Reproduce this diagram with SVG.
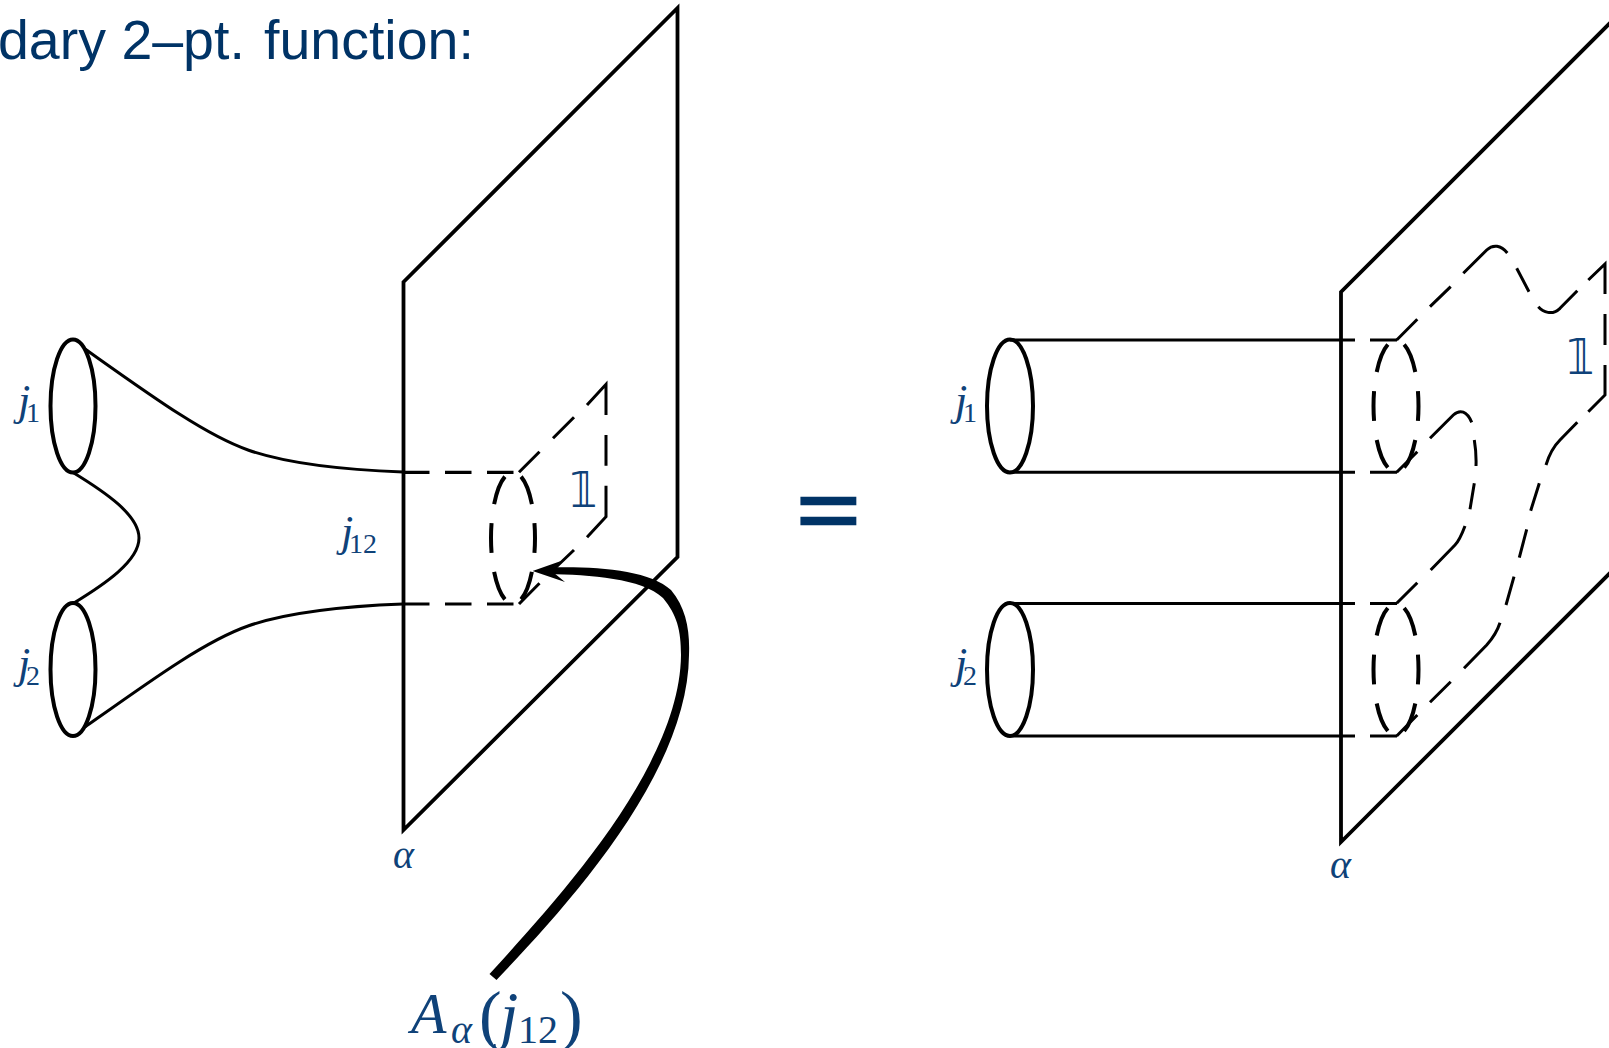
<svg xmlns="http://www.w3.org/2000/svg" width="1609" height="1048" viewBox="0 0 1609 1048">
<style>
.plane{fill:none;stroke:#000;stroke-width:3.8;stroke-linejoin:miter}
.thin{fill:none;stroke:#000;stroke-width:3}
.dash{fill:none;stroke:#000;stroke-width:3}
.hd{fill:none;stroke:#000;stroke-width:3.2;stroke-dasharray:26.5 15.5}
.rim{fill:none;stroke:#000;stroke-width:4}
.rimd{fill:none;stroke:#000;stroke-width:4;stroke-dasharray:12.2 7.8;stroke-dashoffset:6.1}
.m{font-family:"Liberation Serif","DejaVu Serif",serif;font-style:italic;fill:#0f4279}
.n{font-family:"Liberation Serif","DejaVu Serif",serif;fill:#0f4279}
.bb{font-family:"DejaVu Sans",sans-serif;fill:#0f4279}
</style>
<rect width="1609" height="1048" fill="#fff"/>
<text id="title" y="59" font-family="'Liberation Sans',Arial,sans-serif" font-size="55.5" fill="#003366"><tspan x="-2">dary 2–pt.</tspan> <tspan x="264">function:</tspan></text>
<g id="connectors">
<path class="thin" d="M85 349C150 395 205 435 248 450C288 464 350 470 403 472"/>
<path class="thin" d="M73 472.5C105 492 139 515 139 538C139 561 105 584 73 603.5"/>
<path class="thin" d="M85 727C150 681 205 641 248 626C288 612 350 606 403 604"/>
<path class="hd" d="M403 472.3H515M403 604H515"/>
<path class="thin" d="M1010 340H1355M1370 340H1397M1010 472.3H1355M1370 472.3H1397M1010 603.5H1355M1370 603.5H1397M1010 736H1355M1370 736H1397"/>
<path id="arrow" fill="#000" d="M489.5 974C555 902 680 768 681 655C681 630 677 615 663 598C642 578 590 575 548 574L548 567.5C595 566 650 570 671 590C686 608 690 630 689 655C688 775 565 908 496.5 980Z"/>
<path id="arrowhead" fill="#000" d="M532.6 571L561 561L551 570.5L565 582Z"/>
</g>
<g id="left-plane">
<path class="plane" d="M403.5 282L677.5 8V557L403.5 830Z"/>
<text class="m" x="393" y="868" font-size="40">α</text>
</g>
<g id="right-plane">
<path class="plane" d="M1620 13L1341 292V842L1620 563"/>
<text class="m" x="1330" y="878" font-size="40">α</text>
</g>
<g id="left-j1"><ellipse class="rim" cx="73" cy="406" rx="22.5" ry="66.5"/>
<text class="m" x="18" y="415" font-size="44">j</text><text class="n" x="26" y="422" font-size="28">1</text></g>
<g id="left-j2"><ellipse class="rim" cx="73" cy="669.5" rx="22.5" ry="66.5"/>
<text class="m" x="18" y="678" font-size="44">j</text><text class="n" x="26" y="685" font-size="28">2</text></g>
<g id="left-j12">
<text class="m" x="341" y="546" font-size="44">j</text><text class="n" x="349" y="553" font-size="28">12</text></g>
<g id="left-defect">
<ellipse class="rimd" pathLength="120" cx="513" cy="538" rx="22" ry="66"/>
<path class="dash" d="M519 472.3L539.5 451.7M553 438.3L574 417.3M587 405L606 384.3V415M606 435V465.7M606 485.7V516.7L587 537.3M574 550L553 570M539.5 583.3L519 604"/>
<text class="bb" x="570" y="507" font-size="50" transform="translate(570 0) scale(.85 1) translate(-570 0)">𝟙</text>
</g>
<g id="equals"><text transform="translate(797 537.5) scale(.96 .72)" font-family="'Liberation Sans',Arial,sans-serif" font-size="112" fill="#003366" stroke="#003366" stroke-width="3.8">=</text></g>
<g id="right-j1"><ellipse class="rim" cx="1010" cy="406" rx="23" ry="66.5"/>
<text class="m" x="955" y="415" font-size="44">j</text><text class="n" x="963" y="422" font-size="28">1</text></g>
<g id="right-j2"><ellipse class="rim" cx="1010" cy="669.5" rx="23" ry="66.5"/>
<text class="m" x="955" y="678" font-size="44">j</text><text class="n" x="963" y="685" font-size="28">2</text></g>
<g id="right-defect">
<ellipse class="rimd" pathLength="120" cx="1396" cy="406" rx="22.5" ry="66"/>
<ellipse class="rimd" pathLength="120" cx="1396" cy="669.5" rx="22.5" ry="66"/>
<path class="dash" d="M1396.7 340L1417.3 319.3M1430 306.7L1450.7 286.7M1463.3 273.3L1486.7 250C1493 244 1501 245 1507.3 253M1516.7 268.3L1529 291.7M1538.3 306.7C1543 312 1552 316 1560 308.3L1577.3 290.7M1588.3 280L1605 264V294M1605 314V345M1605 365V395L1588.3 411.7M1577.3 422.3L1560 440C1553 447 1549 455 1546 465M1539.3 483.3L1530.7 510.7M1526.7 529.3L1519.3 557.7M1514 576.7L1506 605M1500 622.7C1497 632 1492 639 1486.7 645L1464 668.3M1450.7 681.7L1430 702.3M1417.3 715L1396.7 736"/>
<path class="dash" d="M1396.7 472.3L1417.3 451.7M1430 438.3L1453.3 415C1460 409 1467 411 1471.7 422.3M1474.3 440C1476 450 1476.3 458 1476 466M1474.3 483.3L1470 509.3M1465 526C1462 534 1459 541 1455 545L1430.7 570M1417.3 582.7L1396.7 603.3"/>
<text class="bb" x="1567" y="374" font-size="50" transform="translate(1567 0) scale(.85 1) translate(-1567 0)">𝟙</text>
</g>
<g id="label-A">
<text class="m" x="411" y="1033" font-size="58">A</text>
<text class="m" x="451" y="1043" font-size="40">α</text>
<text class="n" x="479" y="1038" font-size="68">(</text>
<text class="m" x="500" y="1037" font-size="66">j</text>
<text class="n" x="518" y="1043" font-size="40">12</text>
<text class="n" x="560" y="1038" font-size="68">)</text>
</g>
</svg>
